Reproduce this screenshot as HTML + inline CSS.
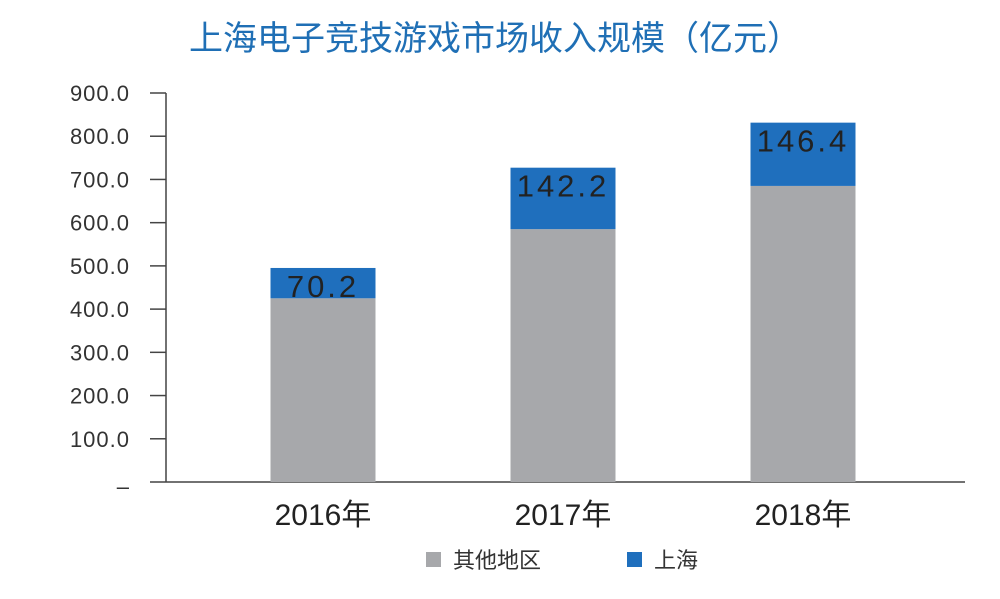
<!DOCTYPE html>
<html><head><meta charset="utf-8"><style>
body{margin:0;background:#fff;font-family:"Liberation Sans","Noto Sans CJK SC",sans-serif;}
#c{width:1000px;height:594px;position:relative;}
</style></head><body><div id="c">
<svg id="s" width="1000" height="594" xmlns="http://www.w3.org/2000/svg" font-family="Liberation Sans, Noto Sans CJK SC, sans-serif">
<text x="495" y="50" text-anchor="middle" font-size="34" fill="#1f6fb5">上海电子竞技游戏市场收入规模（亿元）</text>
<g id="axes"></g><g id="bars"></g>
<g>
<rect x="426" y="552" width="15" height="15" fill="#a7a8ab"/>
<text x="453" y="568" font-size="22" fill="#333">其他地区</text>
<rect x="627" y="552" width="15" height="15" fill="#1f6fbd"/>
<text x="654" y="568" font-size="22" fill="#333">上海</text>
</g>
</svg></div>
<script>
const categories=["2016年","2017年","2018年"];
const otherValues=[425,585,685];
const shanghaiValues=[70.2,142.2,146.4];
const tickValues=[0,100,200,300,400,500,600,700,800,900];
const tickLabels=["–","100.0","200.0","300.0","400.0","500.0","600.0","700.0","800.0","900.0"];
const NS="http://www.w3.org/2000/svg";
const y0=482,yTop=93,vMax=900,xAxis=166,xEnd=965;
const y=v=>y0-(v/vMax)*(y0-yTop);
const cx=i=>323+240*i;
const bw=105;
function mk(tag,attrs,parent){const e=document.createElementNS(NS,tag);for(const k in attrs)e.setAttribute(k,attrs[k]);parent.appendChild(e);return e;}
const ax=document.getElementById('axes'),bg=document.getElementById('bars');
let l=mk('line',{x1:xAxis,y1:yTop,x2:xAxis,y2:y0,stroke:'#444','stroke-width':1.5},ax);


l=mk('line',{x1:150,y1:y0,x2:xEnd,y2:y0,stroke:'#444','stroke-width':1.5},ax);


tickValues.forEach((v,i)=>{
 if(v>0){const t=mk('line',{x1:150,y1:y(v),x2:xAxis,y2:y(v),stroke:'#444','stroke-width':1.5},ax);
 
 }
 const tx=mk('text',{x:130,y:y(v)+(v>0?8:12),'text-anchor':'end','font-size':22,fill:'#333','letter-spacing':'1'},ax);
 tx.textContent=tickLabels[i];
 
 
});
categories.forEach((c,i)=>{
 const o=otherValues[i],s=shanghaiValues[i],x=cx(i)-bw/2;
 const r1=mk('rect',{x:x,y:y(o),width:bw,height:y0-y(o),fill:'#a7a8ab'},bg);
 
 
 const r2=mk('rect',{x:x,y:y(o+s),width:bw,height:y(o)-y(o+s),fill:'#1f6fbd'},bg);
 
 
 const lb=mk('text',{x:cx(i),y:y(o+s)+29,'text-anchor':'middle','font-size':31,fill:'#222','letter-spacing':'3'},bg);
 lb.textContent=s.toFixed(1);
 
 
 const xl=mk('text',{x:cx(i),y:525,'text-anchor':'middle','font-size':30,fill:'#222'},bg);
 xl.textContent=c;
 
 
});
</script></body></html>
